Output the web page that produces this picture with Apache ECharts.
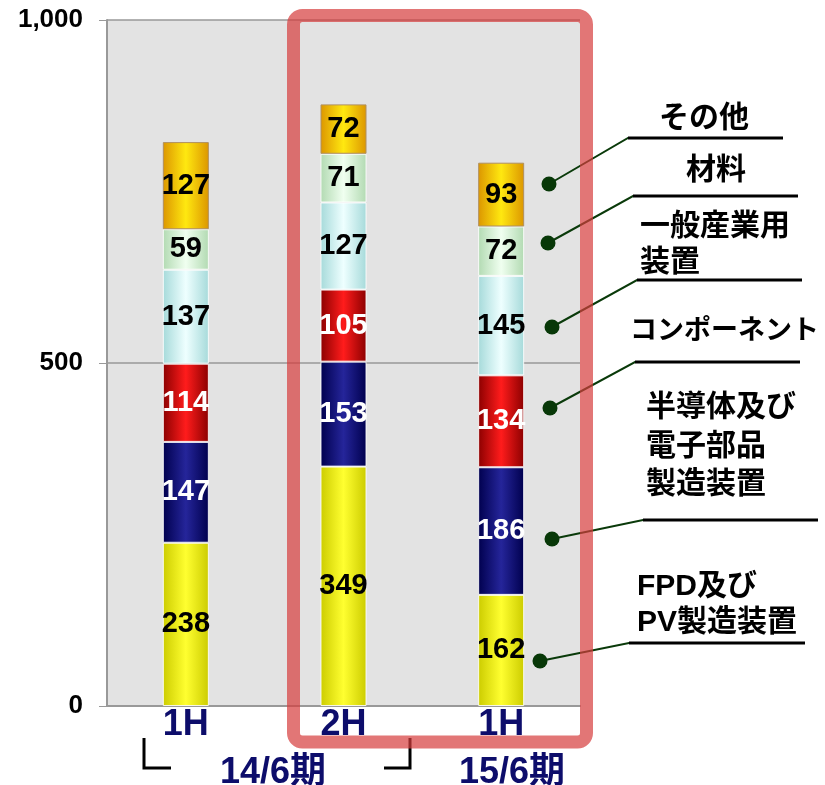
<!DOCTYPE html>
<html>
<head>
<meta charset="utf-8"/>
<script src="https://cdn.jsdelivr.net/npm/echarts@6/dist/echarts.min.js"></script>
<style>
  html, body { margin: 0; padding: 0; background: #fff; }
</style>
</head>
<body>
<div id="main" style="width: 825px; height: 785px;"></div>
<script>
// 区分 (x軸)
var halves = ['1H', '2H', '1H'];
var periods = ['14/6期', '15/6期'];
var yTicks = [0, 500, 1000];

// 系列 (下から上へ)
var seriesNames = ['FPD及びPV製造装置', '半導体及び電子部品製造装置', 'コンポーネント', '一般産業用装置', '材料', 'その他'];
var fpd = [238, 349, 162];
var semi = [147, 153, 186];
var comp = [114, 105, 134];
var general = [137, 127, 145];
var material = [59, 71, 72];
var other = [127, 72, 93];

// 凡例の文字 (行ごと)
var legendText = [
  ['その他'],
  ['材料'],
  ['一般産業用', '装置'],
  ['コンポーネント'],
  ['半導体及び', '電子部品', '製造装置'],
  ['FPD及び', 'PV製造装置']
];

var FONT = '"Liberation Sans", Arial, "Noto Sans CJK JP", sans-serif';

// 円柱っぽい横グラデーション
function cyl(edge, mid) {
  return new echarts.graphic.LinearGradient(0, 0, 1, 0, [
    { offset: 0, color: edge },
    { offset: 0.5, color: mid },
    { offset: 1, color: edge }
  ]);
}

var styles = [
  { color: cyl('#cccc00', '#ffff30'), label: '#000' },
  { color: cyl('#00004e', '#25259a'), label: '#fff' },
  { color: cyl('#8c0000', '#ff1c1c'), label: '#fff' },
  { color: cyl('#a6dada', '#eeffff'), label: '#000' },
  { color: cyl('#b2dab2', '#f0fff0'), label: '#000' },
  { color: cyl('#dc9600', '#ffe810'), label: '#000' }
];
var values = [fpd, semi, comp, general, material, other];

var series = values.map(function (d, i) {
  return {
    name: seriesNames[i],
    type: 'bar',
    stack: 'total',
    barWidth: 46,
    data: d,
    itemStyle: {
      color: styles[i].color,
      borderColor: i === 5 ? '#b09060' : 'rgba(255,255,255,0.85)',
      borderWidth: 1
    },
    label: {
      show: true,
      position: 'inside',
      fontFamily: FONT,
      fontWeight: 'bold',
      fontSize: 29,
      color: styles[i].label
    }
  };
});

// 凡例の引き出し線
var callouts = [
  { dot: [549, 184], line: [628, 138, 783] },
  { dot: [548, 243], line: [633, 196, 798] },
  { dot: [552, 327], line: [637, 280, 802] },
  { dot: [550, 408], line: [635, 362, 800] },
  { dot: [552, 539], line: [643, 520, 818] },
  { dot: [540, 661], line: [629, 643, 805] }
];
var textPos = [
  { x: 704, y: 119, align: 'center', size: 30 },
  { x: 716, y: 171, align: 'center', size: 30 },
  { x: 640, y: 227, align: 'left', size: 30, lh: 36 },
  { x: 630, y: 332, align: 'left', size: 27 },
  { x: 646, y: 408, align: 'left', size: 30, lh: 38.5 },
  { x: 637, y: 587, align: 'left', size: 30, lh: 36 }
];

var graphics = [];
callouts.forEach(function (c) {
  graphics.push({
    type: 'polyline', z: 50,
    shape: { points: [c.dot, [c.line[0], c.line[1]], [c.line[2], c.line[1]]] },
    style: { fill: null, stroke: '#0a3a0a', lineWidth: 2 }
  });
  graphics.push({
    type: 'polyline', z: 51,
    shape: { points: [[c.line[0], c.line[1]], [c.line[2], c.line[1]]] },
    style: { fill: null, stroke: '#000', lineWidth: 3 }
  });
  graphics.push({
    type: 'circle', z: 52,
    shape: { cx: c.dot[0], cy: c.dot[1], r: 7.5 },
    style: { fill: '#083808' }
  });
});
legendText.forEach(function (lines, i) {
  var p = textPos[i];
  lines.forEach(function (t, k) {
    graphics.push({
      type: 'text', z: 52,
      x: p.x, y: p.y + k * (p.lh || 0),
      style: {
        text: t, fill: '#000', font: 'bold ' + p.size + 'px ' + FONT,
        textAlign: p.align, textVerticalAlign: 'middle'
      }
    });
  });
});

// 期の表示と括弧
var periodX = [273, 512];
periods.forEach(function (t, i) {
  graphics.push({
    type: 'text', z: 52,
    x: periodX[i], y: 773,
    style: {
      text: t, fill: '#0d0d6b', font: 'bold 36px ' + FONT,
      textAlign: 'center', textVerticalAlign: 'middle'
    }
  });
});
graphics.push({
  type: 'polyline', z: 52,
  shape: { points: [[144, 738], [144, 768], [171, 768]] },
  style: { fill: null, stroke: '#000', lineWidth: 3 }
});
graphics.push({
  type: 'polyline', z: 52,
  shape: { points: [[384, 768], [410, 768], [410, 738]] },
  style: { fill: null, stroke: '#000', lineWidth: 3 }
});

// 赤枠
graphics.push({
  type: 'rect', z: 100,
  shape: { x: 293.5, y: 15.5, width: 293, height: 726.5, r: 9 },
  style: { fill: null, stroke: 'rgba(214,60,60,0.7)', lineWidth: 13 }
});

var myChart = echarts.init(document.getElementById('main'));
myChart.setOption({
  animation: false,
  grid: {
    left: 107, right: 245, top: 20, bottom: 79,
    show: true, backgroundColor: '#e3e3e3', borderWidth: 0
  },
  xAxis: {
    type: 'category',
    data: halves,
    axisLine: { lineStyle: { color: '#999', width: 2 } },
    axisTick: { show: false },
    axisLabel: {
      margin: 1, fontFamily: FONT, fontWeight: 'bold', fontSize: 36, color: '#0d0d6b'
    }
  },
  yAxis: {
    type: 'value',
    min: yTicks[0], max: yTicks[2], interval: yTicks[1] - yTicks[0],
    axisLine: { show: true, lineStyle: { color: '#999', width: 2 } },
    axisTick: { show: true, length: 8, lineStyle: { color: '#999' } },
    splitLine: { lineStyle: { color: '#999', width: 1.5 } },
    axisLabel: {
      margin: 24, fontFamily: FONT, fontWeight: 'bold', fontSize: 26, color: '#000',
      formatter: function (v) { return v.toLocaleString('en-US'); }
    }
  },
  series: series,
  graphic: graphics
});
</script>
</body>
</html>
